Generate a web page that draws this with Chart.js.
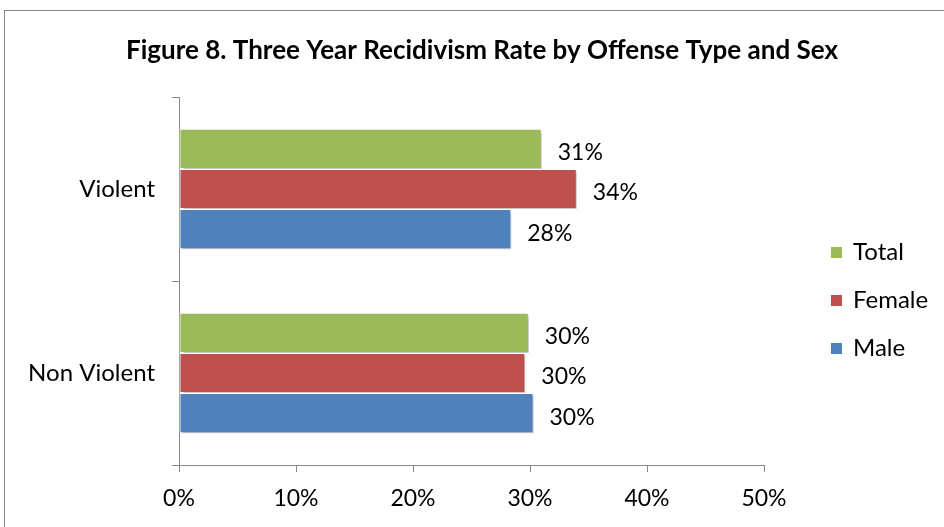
<!DOCTYPE html>
<html>
<head>
<meta charset="utf-8">
<script src="https://cdn.jsdelivr.net/npm/chart.js@4/dist/chart.umd.min.js"></script>
<style>
  html, body { margin: 0; padding: 0; background: #fff; }
  #wrap { width: 944px; height: 527px; position: relative; }
</style>
</head>
<body>
<div id="wrap"><canvas id="myChart" width="944" height="527"></canvas></div>
<script>
const categories = ['Violent', 'Non Violent'];
const totalRate = [31.0, 29.9];
const femaleRate = [34.0, 29.6];
const maleRate = [28.4, 30.3];
const tickValues = [0, 10, 20, 30, 40, 50];
const chartTitle = 'Figure 8. Three Year Recidivism Rate by Offense Type and Sex';

const FONT = 'Lato, Calibri, "Open Sans", sans-serif';
const axisGrey = '#868686';

// frame, title, legend, value labels
const decorations = {
    id: 'decorations',
    beforeDraw(chart) {
        const c = chart.ctx;
        c.save();
        c.fillStyle = '#fff';
        c.fillRect(0, 0, chart.width, chart.height);
        c.strokeStyle = axisGrey;
        c.lineWidth = 1;
        c.strokeRect(4.5, 10.5, 1000, 1000);
        c.fillStyle = '#000';
        c.font = 'bold 26px ' + FONT;
        c.textAlign = 'center';
        c.textBaseline = 'middle';
        c.fillText(chartTitle, 482, 51);
        c.restore();
    },
    beforeDatasetDraw(chart) {
        const c = chart.ctx;
        c.save();
        c.shadowColor = 'rgba(0,0,0,0.3)';
        c.shadowBlur = 3;
        c.shadowOffsetX = 2;
        c.shadowOffsetY = 2;
    },
    afterDatasetDraw(chart) {
        chart.ctx.restore();
    },
    afterDatasetsDraw(chart) {
        const c = chart.ctx;
        c.save();
        c.font = '23px ' + FONT;
        c.fillStyle = '#000';
        c.textAlign = 'left';
        c.textBaseline = 'middle';
        chart.data.datasets.forEach((ds, i) => {
            chart.getDatasetMeta(i).data.forEach((bar, j) => {
                c.fillText(Math.round(ds.data[j]) + '%', bar.x + 16, bar.y + 4);
            });
        });
        // legend
        c.font = '24px ' + FONT;
        chart.data.datasets.forEach((ds, i) => {
            const y = 252 + i * 48;
            c.fillStyle = ds.backgroundColor;
            c.fillRect(831, y - 5, 11, 11);
            c.fillStyle = '#000';
            c.fillText(ds.label, 853, y);
        });
        c.restore();
    }
};

const ctx = document.getElementById('myChart').getContext('2d');
const myChart = new Chart(ctx, {
    type: 'bar',
    data: {
        labels: categories,
        datasets: [
            { label: 'Total', data: totalRate, backgroundColor: '#9BBB59' },
            { label: 'Female', data: femaleRate, backgroundColor: '#C0504D' },
            { label: 'Male', data: maleRate, backgroundColor: '#4F81BD' }
        ]
    },
    options: {
        indexAxis: 'y',
        responsive: false,
        animation: false,
        layout: { padding: { top: 97, right: 180, left: 0, bottom: 0 } },
        datasets: {
            bar: {
                categoryPercentage: 0.655,
                barPercentage: 1,
                borderColor: '#fff',
                borderWidth: 1,
                borderSkipped: false
            }
        },
        scales: {
            x: {
                min: 0,
                max: 50,
                afterBuildTicks(scale) {
                    scale.ticks = tickValues.map(v => ({ value: v }));
                },
                afterFit(scale) { scale.height = 62; },
                border: { color: axisGrey, width: 1 },
                grid: { drawOnChartArea: false, drawTicks: true, tickLength: 7, color: axisGrey },
                ticks: {
                    padding: 13,
                    color: '#000',
                    font: { family: FONT, size: 23 },
                    callback: v => v + '%'
                }
            },
            y: {
                afterFit(scale) { scale.width = 179; },
                border: { color: axisGrey, width: 1 },
                grid: { drawOnChartArea: false, drawTicks: true, tickLength: 7, color: axisGrey, offset: true },
                ticks: {
                    padding: 17,
                    color: '#000',
                    font: { family: FONT, size: 24 }
                }
            }
        },
        plugins: {
            legend: { display: false },
            title: { display: false },
            tooltip: { enabled: false }
        }
    },
    plugins: [decorations]
});
</script>
</body>
</html>
